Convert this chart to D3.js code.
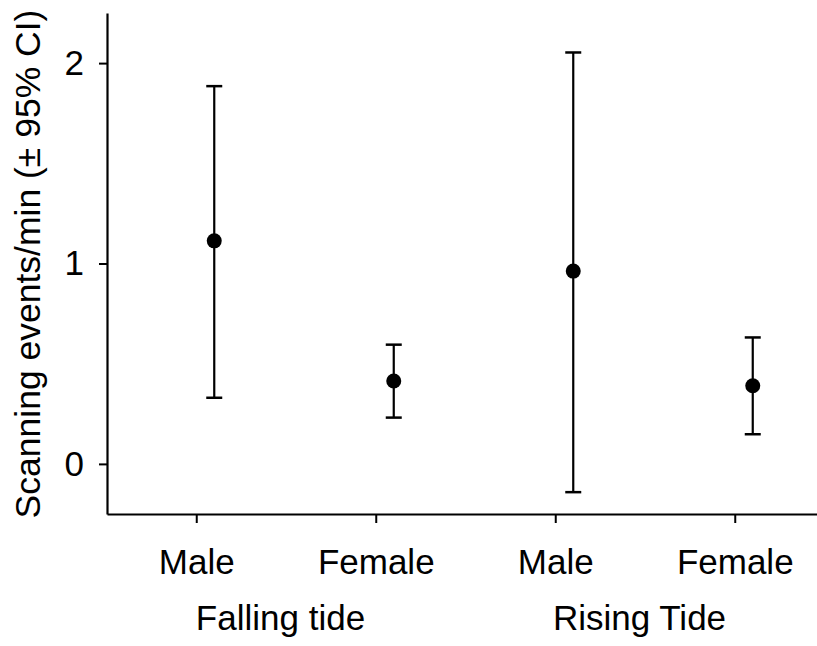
<!DOCTYPE html>
<html><head><meta charset="utf-8">
<script src="https://cdn.jsdelivr.net/npm/d3@7"></script>
<style>body{margin:0;background:#fff}svg{display:block}text{font-family:"Liberation Sans",Arial,Helvetica,sans-serif;fill:#000}</style>
</head><body><svg id="c" width="817" height="646"></svg>
<script>
const categories = ["Male","Female","Male","Female"];
const groups = ["Falling tide","Rising Tide"];
const means = [1.113, 0.414, 0.962, 0.390];
const upper = [1.885, 0.595, 2.053, 0.631];
const lower = [0.330, 0.231, -0.141, 0.148];
const yTicks = [0, 1, 2];

const svg = d3.select("#c");
const y = d3.scaleLinear().domain([-0.25, 2.25]).range([514, 13]);
const x = d3.scaleBand().domain(d3.range(categories.length)).range([107, 825]).padding(0);
const off = 17.5;
const cx = i => x(i) + x.bandwidth()/2;
const FS = 35;

// y axis
const ya = svg.append("g").attr("transform","translate(107,0)")
  .call(d3.axisLeft(y).tickValues(yTicks).tickFormat(d3.format("d")).tickSize(8).tickSizeOuter(0).tickPadding(15));
ya.select(".domain").attr("stroke","#000").attr("stroke-width",2.2);
ya.selectAll(".tick line").attr("stroke","#000").attr("stroke-width",2);
ya.selectAll(".tick text").attr("font-size",FS).attr("font-family","Liberation Sans, Arial, sans-serif");

// x axis
const xa = svg.append("g").attr("transform","translate(0,514)")
  .call(d3.axisBottom(x).tickFormat(i => categories[i]).tickSize(9).tickSizeOuter(0).tickPadding(26));
xa.select(".domain").attr("stroke","#000").attr("stroke-width",2.2);
xa.selectAll(".tick line").attr("stroke","#000").attr("stroke-width",2);
xa.selectAll(".tick text").attr("font-size",FS).attr("font-family","Liberation Sans, Arial, sans-serif");

// group labels
groups.forEach((g, k) => {
  svg.append("text").attr("x", (cx(2*k)+cx(2*k+1))/2 - 6).attr("y", 630)
    .attr("text-anchor","middle").attr("font-size",FS).text(g);
});

// y title
svg.append("text").attr("transform","translate(40,264) rotate(-90)")
  .attr("text-anchor","middle").attr("font-size",35.5).text("Scanning events/min (± 95% CI)");

// error bars
const eb = svg.append("g").selectAll("g").data(d3.range(means.length)).join("g");
eb.append("line").attr("x1",i=>cx(i)+off).attr("x2",i=>cx(i)+off)
  .attr("y1",i=>y(upper[i])).attr("y2",i=>y(lower[i])).attr("stroke","#000").attr("stroke-width",2.2);
eb.append("line").attr("x1",i=>cx(i)+off-8).attr("x2",i=>cx(i)+off+8)
  .attr("y1",i=>y(upper[i])).attr("y2",i=>y(upper[i])).attr("stroke","#000").attr("stroke-width",2.5);
eb.append("line").attr("x1",i=>cx(i)+off-8).attr("x2",i=>cx(i)+off+8)
  .attr("y1",i=>y(lower[i])).attr("y2",i=>y(lower[i])).attr("stroke","#000").attr("stroke-width",2.5);
eb.append("circle").attr("cx",i=>cx(i)+off).attr("cy",i=>y(means[i])).attr("r",7.5).attr("fill","#000");
</script></body></html>
